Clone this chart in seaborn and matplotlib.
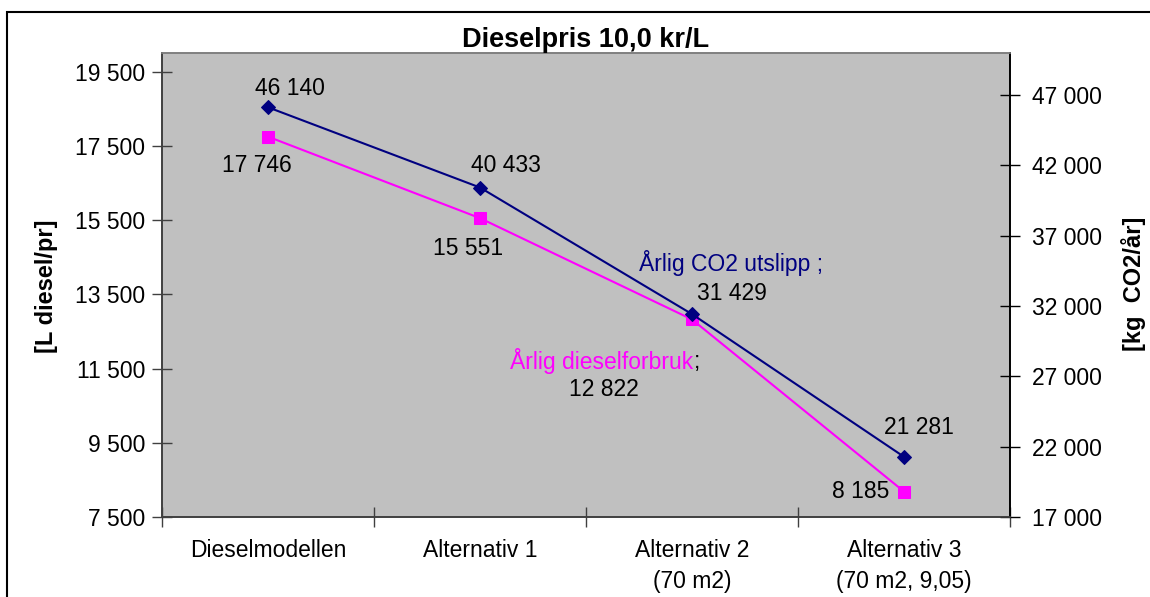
import matplotlib
matplotlib.use("Agg")
import matplotlib.pyplot as plt
import matplotlib.patches as mpatches
from matplotlib.ticker import FixedLocator
import seaborn as sns
import pandas as pd

# Scenario data
categories = ["Dieselmodellen", "Alternativ 1", "Alternativ 2\n(70 m2)", "Alternativ 3\n(70 m2, 9,05)"]
diesel_l = [17746, 15551, 12822, 8185]      # annual diesel use [L]
co2_kg = [46140, 40433, 31429, 21281]        # annual CO2 emission [kg]
left_ticks = [7500, 9500, 11500, 13500, 15500, 17500, 19500]
right_ticks = [17000, 22000, 27000, 32000, 37000, 42000, 47000]

NAVY = "#000080"
PINK = "#FF00FF"
PLOT_BG = "#C0C0C0"
FS = 16.5


def fmt(v):
    return f"{v:,}".replace(",", " ")


sns.set_theme(style="white")
plt.rcParams["font.family"] = ["Liberation Sans", "DejaVu Sans"]
plt.rcParams["text.color"] = "black"
plt.rcParams["xtick.labelcolor"] = "black"
plt.rcParams["ytick.labelcolor"] = "black"

W, H = 1150, 597
fig = plt.figure(figsize=(W / 100, H / 100), dpi=100)
fig.patch.set_facecolor("white")

L, R, T, B = 162, 1010, 53, 517
ax = fig.add_axes([L / W, (H - B) / H, (R - L) / W, (B - T) / H])
ax.set_facecolor(PLOT_BG)
ax2 = ax.twinx()

df = pd.DataFrame({"x": range(len(categories)), "diesel": diesel_l, "co2": co2_kg})

sns.lineplot(data=df, x="x", y="diesel", ax=ax, color=PINK, lw=1.5,
             marker="s", markersize=8, markeredgecolor=PINK, markerfacecolor=PINK)
sns.lineplot(data=df, x="x", y="co2", ax=ax2, color=NAVY, lw=1.5,
             marker="D", markersize=7, markeredgecolor=NAVY, markerfacecolor=NAVY)

ax.set_xlim(-0.5, len(categories) - 0.5)
ax.set_ylim(7500, 20000)
ax2.set_ylim(17000, 50000)

# category boundaries get tick marks, labels sit between them
ax.xaxis.set_major_locator(FixedLocator([i - 0.5 for i in range(len(categories) + 1)]))
ax.xaxis.set_minor_locator(FixedLocator(list(range(len(categories)))))
ax.set_xticklabels([""] * (len(categories) + 1))
ax.set_xticklabels(categories, minor=True)
ax.tick_params(axis="x", which="major", direction="inout", length=14, width=1, color="#404040", bottom=True)
ax.tick_params(axis="x", which="minor", length=0, pad=16, labelsize=FS, labelcolor="black")
for lab in ax.get_xticklabels(minor=True):
    lab.set_multialignment("center")
    lab.set_linespacing(1.45)

ax.set_yticks(left_ticks)
ax.set_yticklabels([fmt(v) for v in left_ticks])
ax.tick_params(axis="y", direction="inout", length=14, width=1, color="#404040", left=True, pad=5,
               labelsize=FS, labelcolor="black")
ax2.set_yticks(right_ticks)
ax2.set_yticklabels([fmt(v) for v in right_ticks])
ax2.tick_params(axis="y", direction="inout", length=14, width=1, color="black", right=True, pad=9,
                labelsize=FS, labelcolor="black")

for a in (ax, ax2):
    a.set_xlabel("")
    a.set_ylabel("")
    for s in a.spines.values():
        s.set_linewidth(1.2)
    a.spines["top"].set_color("#808080")
    a.spines["left"].set_color("#404040")
    a.spines["bottom"].set_color("#404040")
    a.spines["right"].set_color("black")
    a.grid(False)

# value labels
co2_off = [(22, 19), (26, 22), (40, 21), (15, 29)]
die_off = [(-11, -29), (-12, -30), (None, None), (-43, 0)]
for i, v in enumerate(co2_kg):
    ax2.annotate(fmt(v), xy=(i, v), xytext=co2_off[i], textcoords="offset pixels",
                 ha="center", va="center", fontsize=FS, color="black")
for i, v in enumerate(diesel_l):
    if i == 2:
        continue
    ax.annotate(fmt(v), xy=(i, v), xytext=die_off[i], textcoords="offset pixels",
                ha="center", va="center", fontsize=FS, color="black")

# series name labels at Alternativ 2
ax2.annotate("Årlig CO2 utslipp ;", xy=(2, co2_kg[2]), xytext=(39, 51), textcoords="offset pixels",
             ha="center", va="center", fontsize=FS, color=NAVY)
ax.annotate("Årlig dieselforbruk", xy=(2, diesel_l[2]), xytext=(1, -42), textcoords="offset pixels",
            ha="right", va="center", fontsize=FS, color=PINK)
ax.annotate(";", xy=(2, diesel_l[2]), xytext=(2, -42), textcoords="offset pixels",
            ha="left", va="center", fontsize=FS, color="black")
ax.annotate(fmt(diesel_l[2]), xy=(2, diesel_l[2]), xytext=(-88, -70), textcoords="offset pixels",
            ha="center", va="center", fontsize=FS, color="black")

# titles and axis names
fig.text(586 / W, 1 - 40 / H, "Dieselpris 10,0 kr/L", ha="center", va="center",
         fontsize=19.5, fontweight="bold", color="black")
fig.text(47 / W, 1 - 286 / H, "[L diesel/pr]", rotation=90, ha="center", va="center",
         fontsize=17, fontweight="bold", color="black")
fig.text(1133 / W, 1 - 284 / H, "[kg  CO2/år]", rotation=90, ha="center", va="center",
         fontsize=17, fontweight="bold", color="black")

# chart frame
fig.patches.append(mpatches.Rectangle((7 / W, -0.5), 2.0, 1.5 - 12 / H, transform=fig.transFigure,
                                      fill=False, edgecolor="black", lw=1.5))

fig.savefig("out.png", dpi=100, facecolor="white")
